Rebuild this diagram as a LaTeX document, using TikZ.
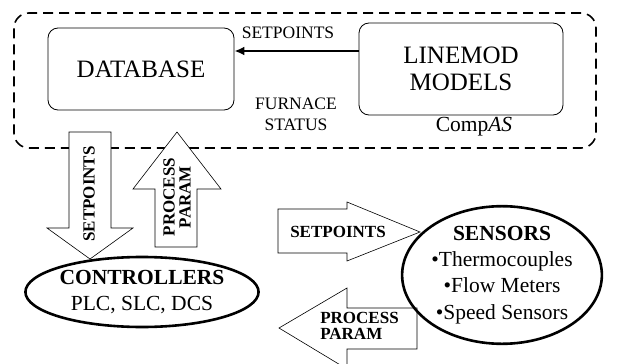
\documentclass[tikz,border=0pt]{standalone}
\usepackage{fontspec}
\setmainfont{Liberation Serif}
\usetikzlibrary{shapes.geometric, arrows.meta}

\begin{document}
\begin{tikzpicture}[x=1pt, y=-1pt,
    box/.style={draw, rounded corners=10pt, line width=0.8pt, inner sep=0pt, align=center, font=\fontsize{25}{27}\selectfont},
    oval/.style={ellipse, draw, line width=2.6pt, inner sep=0pt, align=center, font=\fontsize{21.5}{26.5}\selectfont},
    blk/.style={draw, fill=white, line width=0.6pt, line join=miter},
    lbl/.style={inner sep=0pt, align=center, font=\fontsize{17.5}{21}\selectfont},
    bold/.style={inner sep=0pt, font=\fontsize{17}{16}\selectfont\bfseries}]
  \useasboundingbox (0, 0) rectangle (629, 364);

  % CompAS group
  \node (comp) [draw, line width=1.6pt, dash pattern=on 10pt off 6pt, rounded corners=15pt,
    minimum width=582pt, minimum height=135pt] at (305, 80.5) {};
  \node (db) [box, minimum width=186pt, minimum height=82pt] at (141, 69) {DATABASE};
  \node (lm) [box, minimum width=204pt, minimum height=92pt] at (461, 69) {LINEMOD\\MODELS};
  \draw [line width=2.2pt, -{Latex[length=10pt, width=9pt]}] ([yshift=18pt]lm.west) -- ([yshift=18pt]db.east);
  \node (sp) [lbl] at (288, 33) {SETPOINTS};
  \node (fs) [lbl] at (296, 114.5) {FURNACE\\STATUS};
  \node (cas) [lbl, font=\fontsize{21.5}{24}\selectfont] at (474, 127) {Comp\textit{AS}};

  % block arrows
  \draw [blk] (69, 132) -- (111, 132) -- (111, 228) -- (133, 228) -- (90, 259) -- (47, 228) -- (69, 228) -- cycle;
  \draw [blk] (177, 132) -- (221, 189) -- (197, 189) -- (197, 247) -- (155, 247) -- (155, 189) -- (133, 189) -- cycle;
  \draw [blk] (278, 209) -- (347, 209) -- (347, 202) -- (420, 232) -- (347, 261) -- (347, 253) -- (278, 253) -- cycle;
  \draw [blk] (279, 328) -- (347, 288) -- (347, 308) -- (417, 308) -- (417, 349) -- (347, 349) -- (347, 369) -- cycle;
  \node (spd) [bold, rotate=90] at (89, 194) {SETPOINTS};
  \node (ppu) [bold, rotate=90, align=center] at (177, 197) {PROCESS\\PARAM};
  \node (spr) [bold] at (338, 232) {SETPOINTS};
  \node (ppl) [bold, align=left] at (359.5, 326) {PROCESS\\PARAM};

  % plant side
  \node (ctl) [oval, minimum width=232pt, minimum height=70pt] at (142, 292) {\textbf{CONTROLLERS}\\PLC, SLC, DCS};
  \node (sen) [oval, minimum width=176pt, minimum height=134pt] at (502, 275)
    {\textbf{SENSORS}\\[-1pt]•Thermocouples\\•Flow Meters\\•Speed Sensors};
\end{tikzpicture}
\end{document}
